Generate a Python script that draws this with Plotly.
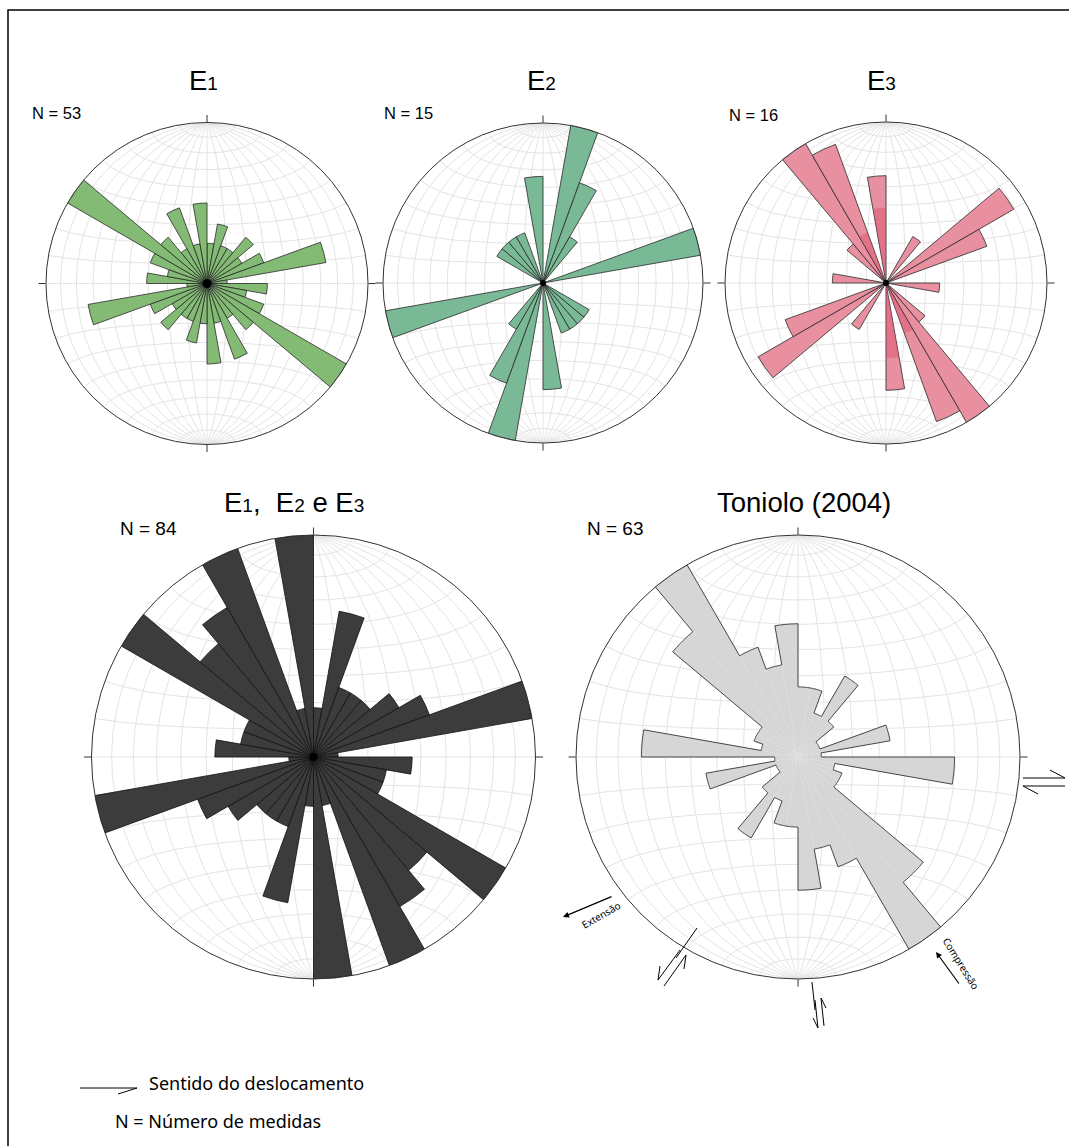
import numpy as np
import plotly.graph_objects as go

W, H = 1069, 1146

# ---------------- data (10-degree bins 0-180, mirrored to 180-360) ----------------
BIN_START = list(range(0, 180, 10))

E1_COUNTS = [2, 3, 2, 2, 3, 2, 3, 6, 1, 3, 2, 3, 8, 3, 2, 4, 2, 4]
E2_COUNTS = [0, 3, 2, 1, 0, 0, 0, 3, 0, 0, 0, 0, 1, 1, 1, 1, 0, 2]
E3_COUNTS = [0, 0, 0, 1, 0, 2.75, 2, 0, 0, 1, 0, 0, 0, 0.95, 3, 2.75, 0, 2]
E3_OVERLAP = [0, 0, 0, 0, 0, 0, 0, 0, 0, 0, 0, 0, 0, 0, 0, 1.0, 0, 1.4]
ALL_COUNTS = [2, 6, 3, 3, 3, 4, 5, 9, 1, 4, 3, 3, 9, 6, 7, 9, 2, 9]
TONIOLO = [3, 3, 2, 4, 2, 1, 1, 4, 1, 6.7, 1.6, 2, 2, 7, 9.5, 5, 4, 5.7]

N_LABELS = ["N = 53", "N = 15", "N = 16", "N = 84", "N = 63"]

# ---------------- layout geometry (pixels) ----------------
PLOTS = [
    dict(cx=207, cy=283.5, R=161, rmax=8, data=E1_COUNTS,
         color="#83bb74", line="#2a2a2a", dot=9),
    dict(cx=543, cy=283, R=160, rmax=3, data=E2_COUNTS,
         color="#79b996", line="#2a2a2a", dot=6),
    dict(cx=886, cy=283, R=161, rmax=3, data=E3_COUNTS,
         color="#e8909f", line="#2a2a2a", dot=6),
    dict(cx=313.5, cy=757, R=222, rmax=9, data=ALL_COUNTS,
         color="#3c3c3c", line="#111111", dot=8),
    dict(cx=798, cy=757, R=222, rmax=9.5, data=TONIOLO,
         color="#d6d6d6", line=None, dot=0),
]


def mirror(vals):
    return list(vals) + list(vals)


THETA = [b + 5 for b in BIN_START] + [b + 185 for b in BIN_START]


def net_xy(step=10, n=121):
    """Equal-area (Schmidt) net with N-S poles, unit radius."""
    out = []
    phi = np.radians(np.linspace(-90, 90, n))
    for ld in range(-80, 81, step):
        lam = np.radians(ld)
        d = np.sqrt(1 + np.cos(phi) * np.cos(lam))
        out.append((np.cos(phi) * np.sin(lam) / d, np.sin(phi) / d))
    lam = np.radians(np.linspace(-90, 90, n))
    for pd in range(-80, 81, step):
        ph = np.radians(pd)
        d = np.sqrt(1 + np.cos(ph) * np.cos(lam))
        out.append((np.cos(ph) * np.sin(lam) / d, np.full_like(lam, np.sin(ph)) / d))
    return out


NET = net_xy()

fig = go.Figure()

gx, gy = [], []
for p in PLOTS:
    for x, y in NET:
        gx.extend((p["cx"] + x * p["R"]).tolist() + [None])
        gy.extend((p["cy"] - y * p["R"]).tolist() + [None])
fig.add_trace(go.Scatter(x=gx, y=gy, mode="lines", line=dict(color="#e4e4e4", width=1),
                         hoverinfo="skip", showlegend=False))

for i, p in enumerate(PLOTS):
    sub = "polar" if i == 0 else f"polar{i+1}"
    vals = mirror(p["data"])
    if p["line"] is not None:
        mline = dict(color=p["line"], width=0.8)
    else:
        mline = dict(color=p["color"], width=0)
    fig.add_trace(go.Barpolar(r=vals, theta=THETA, width=[10] * 36,
                              marker=dict(color=p["color"], line=mline),
                              hoverinfo="skip", showlegend=False, subplot=sub))
    if i == 2:
        fig.add_trace(go.Barpolar(r=mirror(E3_OVERLAP), theta=THETA, width=[10] * 36,
                                  marker=dict(color="rgba(215,60,95,0.35)",
                                              line=dict(width=0)),
                                  hoverinfo="skip", showlegend=False, subplot=sub))
    if i == 4:
        orr, ott = [], []
        for v, t0 in zip(vals, [t - 5 for t in THETA]):
            for a in np.linspace(t0, t0 + 10, 11):
                orr.append(v)
                ott.append(a)
        orr.append(orr[0]); ott.append(ott[0])
        fig.add_trace(go.Scatterpolar(r=orr, theta=ott, mode="lines",
                                      line=dict(color="#333333", width=0.9),
                                      hoverinfo="skip", showlegend=False, subplot=sub))
    if p["dot"]:
        fig.add_trace(go.Scatterpolar(r=[0], theta=[0], mode="markers",
                                      marker=dict(color="black", size=p["dot"]),
                                      hoverinfo="skip", showlegend=False, subplot=sub))

    x0 = (p["cx"] - p["R"]) / W
    x1 = (p["cx"] + p["R"]) / W
    y0 = 1 - (p["cy"] + p["R"]) / H
    y1 = 1 - (p["cy"] - p["R"]) / H
    fig.update_layout(**{sub: dict(
        domain=dict(x=[x0, x1], y=[y0, y1]),
        bgcolor="rgba(0,0,0,0)",
        barmode="overlay",
        angularaxis=dict(direction="clockwise", rotation=90, showgrid=False,
                         showticklabels=False, ticks="outside",
                         tickmode="array", tickvals=[0, 90, 180, 270], ticklen=7,
                         tickwidth=1, tickcolor="#333333",
                         showline=True, linecolor="#333333", linewidth=1),
        radialaxis=dict(visible=False, range=[0, p["rmax"]], showgrid=False),
    )})

# ---------------- text ----------------
ann = []
TF = "Liberation Sans, Arial, sans-serif"


def title(x, y, html, size=27.5):
    ann.append(dict(x=x / W, y=1 - y / H, xref="paper", yref="paper", text=html,
                    showarrow=False, font=dict(family=TF, size=size, color="black"),
                    xanchor="center", yanchor="middle"))


def sb(n):
    return f'<span style="font-size:19px">{n}</span>'


title(203, 80, "E" + sb(1))
title(541, 80, "E" + sb(2))
title(882, 80, "E" + sb(3))
title(294, 503, "E" + sb(1) + ",  E" + sb(2) + " e E" + sb(3))
title(804, 503, "Toniolo (2004)")

for (x, y, s), txt in zip([(30, 113, 16.5), (382, 113, 16.5), (727, 115, 16.5),
                           (118, 528, 19), (585, 528, 19)], N_LABELS):
    ann.append(dict(x=x / W, y=1 - y / H, xref="paper", yref="paper", text=txt,
                    showarrow=False, font=dict(family=TF, size=s, color="black"),
                    xanchor="left", yanchor="middle"))

LF = "Noto Sans, Open Sans, sans-serif"
ann.append(dict(x=147 / W, y=1 - 1083 / H, xref="paper", yref="paper",
                text="Sentido do deslocamento", showarrow=False,
                font=dict(family=LF, size=18, color="black"), xanchor="left", yanchor="middle"))
ann.append(dict(x=113 / W, y=1 - 1121 / H, xref="paper", yref="paper",
                text="N = Número de medidas", showarrow=False,
                font=dict(family=LF, size=18, color="black"), xanchor="left", yanchor="middle"))

ann.append(dict(x=601 / W, y=1 - 935 / H, xref="paper", yref="paper", text="Extensão",
                showarrow=False, textangle=-30, font=dict(family=LF, size=10, color="black")))
ann.append(dict(x=986 / W, y=1 - 995 / H, xref="paper", yref="paper", text="Compressão",
                showarrow=False, textangle=58, font=dict(family=LF, size=10, color="black")))
ann.append(dict(x=563 / W, y=1 - 917 / H, ax=50, ay=-21, xref="paper", yref="paper",
                showarrow=True, arrowhead=2, arrowsize=1, arrowwidth=1.2,
                arrowcolor="black", text=""))
ann.append(dict(x=936 / W, y=1 - 952 / H, ax=24, ay=33, xref="paper", yref="paper",
                showarrow=True, arrowhead=2, arrowsize=1, arrowwidth=1.2,
                arrowcolor="black", text=""))

shapes = []
shapes.append(dict(type="rect", xref="paper", yref="paper", x0=8 / W, x1=1.05,
                   y0=-0.05, y1=1 - 10 / H, line=dict(color="black", width=1.5)))


def seg(x0, y0, x1, y1, w=1):
    shapes.append(dict(type="line", xref="paper", yref="paper", x0=x0 / W, y0=1 - y0 / H,
                       x1=x1 / W, y1=1 - y1 / H, line=dict(color="black", width=w)))


seg(80, 1088, 137, 1088)
seg(137, 1088, 118, 1094)
seg(1023, 778, 1065, 778); seg(1065, 778, 1050, 770)
seg(1023, 786, 1065, 786); seg(1023, 786, 1038, 794)
seg(697, 928, 676, 958)
seg(680, 950, 658, 980); seg(658, 980, 660, 966)
seg(686, 955, 664, 986); seg(686, 955, 684, 969)
seg(812, 982, 815, 1010)
seg(815, 1000, 818, 1028); seg(818, 1028, 813, 1018)
seg(821, 998, 824, 1026); seg(821, 998, 826, 1008)

fig.update_layout(width=W, height=H, margin=dict(l=0, r=0, t=0, b=0),
                  paper_bgcolor="white", plot_bgcolor="white",
                  xaxis=dict(range=[0, W], visible=False, domain=[0, 1], fixedrange=True),
                  yaxis=dict(range=[H, 0], visible=False, domain=[0, 1], fixedrange=True),
                  annotations=ann, shapes=shapes, showlegend=False)

fig.write_html("out.html", config={"displayModeBar": False},
               post_script="document.body.style.margin='0px';")
